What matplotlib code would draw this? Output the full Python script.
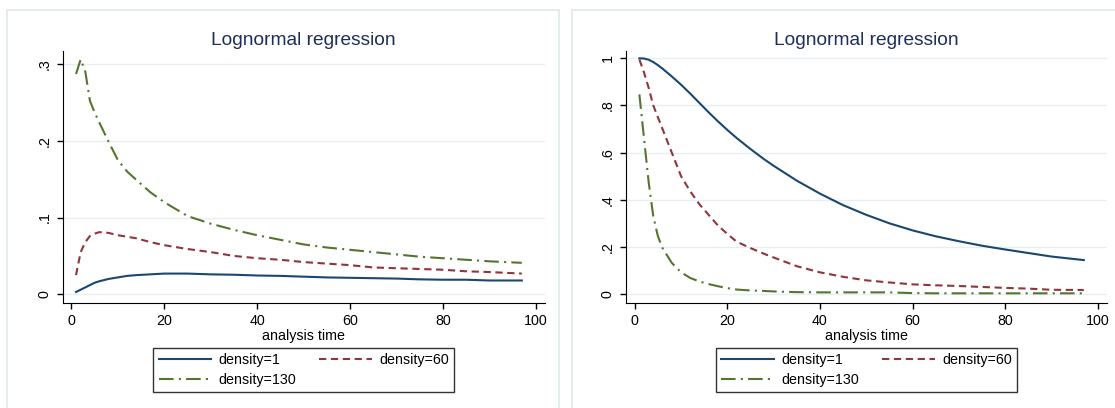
import matplotlib
matplotlib.use('Agg')
import matplotlib.pyplot as plt
from matplotlib.patches import Rectangle
from matplotlib.lines import Line2D

plt.rcParams['font.family'] = ['Liberation Sans', 'DejaVu Sans']

# hazard curves (left panel)
t_haz = [1, 2, 3, 4, 5, 6, 8, 10, 12, 14, 17, 20, 25, 30, 35, 40, 45, 50,
         55, 60, 65, 70, 75, 80, 85, 90, 97]
haz_d1 = [0.003, 0.006, 0.009, 0.012, 0.015, 0.017, 0.020, 0.022, 0.024, 0.025,
          0.026, 0.027, 0.027, 0.026, 0.0255, 0.0245, 0.024, 0.023, 0.022, 0.0215,
          0.021, 0.0205, 0.0195, 0.019, 0.019, 0.018, 0.018]
haz_d60 = [0.025, 0.055, 0.068, 0.076, 0.079, 0.081, 0.080, 0.077, 0.075, 0.073,
           0.068, 0.064, 0.059, 0.055, 0.050, 0.047, 0.045, 0.042, 0.040, 0.038,
           0.035, 0.034, 0.033, 0.032, 0.030, 0.029, 0.027]
haz_d130 = [0.287, 0.306, 0.290, 0.252, 0.237, 0.224, 0.199, 0.175, 0.160, 0.149,
            0.133, 0.120, 0.102, 0.092, 0.084, 0.077, 0.071, 0.065, 0.061, 0.058,
            0.055, 0.052, 0.049, 0.047, 0.045, 0.043, 0.041]

# survival curves (right panel)
t_surv = [1, 2, 3, 4, 5, 6, 8, 10, 12, 14, 16, 18, 20, 22, 25, 28, 30, 35, 40,
          45, 50, 55, 60, 65, 70, 75, 80, 85, 90, 97]
surv_d1 = [1.0, 0.999, 0.994, 0.984, 0.971, 0.956, 0.923, 0.888, 0.850, 0.810,
           0.770, 0.732, 0.696, 0.662, 0.615, 0.571, 0.544, 0.481, 0.426, 0.377,
           0.336, 0.300, 0.270, 0.245, 0.224, 0.205, 0.189, 0.174, 0.159, 0.144]
surv_d60 = [0.995, 0.940, 0.875, 0.800, 0.750, 0.700, 0.600, 0.500, 0.435, 0.380,
            0.335, 0.290, 0.255, 0.222, 0.195, 0.170, 0.155, 0.118, 0.092, 0.073,
            0.058, 0.049, 0.041, 0.037, 0.034, 0.030, 0.026, 0.023, 0.018, 0.017]
surv_d130 = [0.847, 0.660, 0.475, 0.330, 0.245, 0.195, 0.132, 0.092, 0.068, 0.053,
             0.042, 0.033, 0.025, 0.019, 0.015, 0.013, 0.011, 0.008, 0.007, 0.007,
             0.007, 0.007, 0.004, 0.003, 0.003, 0.003, 0.003, 0.003, 0.003, 0.003]

labels = ['density=1', 'density=60', 'density=130']
colors = ['#1a476f', '#90353b', '#55752f']
styles = ['-', (0, (3.5, 2.2)), (0, (7, 2.5, 1, 2.5))]

panels = [
    dict(t=t_haz, ys=[haz_d1, haz_d60, haz_d130], ticks=[0, 0.1, 0.2, 0.3],
         ticklabels=['0', '.1', '.2', '.3'], ylim=(-0.0113, 0.317),
         rect=[0.0561, 0.2574, 0.4327, 0.6176], frame=0.0063),
    dict(t=t_surv, ys=[surv_d1, surv_d60, surv_d130],
         ticks=[0, 0.2, 0.4, 0.6, 0.8, 1.0],
         ticklabels=['0', '.2', '.4', '.6', '.8', '1'], ylim=(-0.038, 1.031),
         rect=[0.5614, 0.2574, 0.4314, 0.6176], frame=0.513),
]

fig = plt.figure(figsize=(11.15, 4.08), dpi=100)

for p in panels:
    # light frame around each graph
    fig.add_artist(Rectangle((p['frame'], -0.1), 0.495, 1.0755, transform=fig.transFigure,
                             fill=False, edgecolor='#dfe9eb', lw=1.2))
    ax = fig.add_axes(p['rect'])
    for y, lab, c, ls in zip(p['ys'], labels, colors, styles):
        ax.plot(p['t'], y, color=c, linestyle=ls, lw=1.5, label=lab)
    ax.set_xlim(-1.9, 102)
    ax.set_ylim(*p['ylim'])
    ax.set_xticks([0, 20, 40, 60, 80, 100])
    ax.set_yticks(p['ticks'])
    ax.set_yticklabels(p['ticklabels'], rotation=90, va='center')
    ax.tick_params(labelsize=10.3, length=4, width=1, direction='out', pad=4)
    ax.spines['top'].set_visible(False)
    ax.spines['right'].set_visible(False)
    ax.yaxis.grid(True, color='#e6eff1', lw=1)
    ax.set_axisbelow(True)
    ax.set_xlabel('analysis time', fontsize=10.3, labelpad=1)
    ax.set_title('Lognormal regression', fontsize=13.8, color='#1e2d5c', pad=4)

    handles = [Line2D([], [], color=c, linestyle=ls, lw=1.5) for c, ls in zip(colors, styles)]
    cx = p['rect'][0] + p['rect'][2] / 2
    leg = fig.legend([handles[0], handles[2], handles[1]],
                     [labels[0], labels[2], labels[1]],
                     ncol=2, loc='center', bbox_to_anchor=(cx, 0.093),
                     fontsize=10.3, frameon=True, fancybox=False,
                     handlelength=3.7, columnspacing=1.6, handletextpad=0.5,
                     labelspacing=0.45, borderpad=0.35)
    leg.get_frame().set_edgecolor('black')
    leg.get_frame().set_linewidth(1)

fig.savefig('out.png', dpi=100)
